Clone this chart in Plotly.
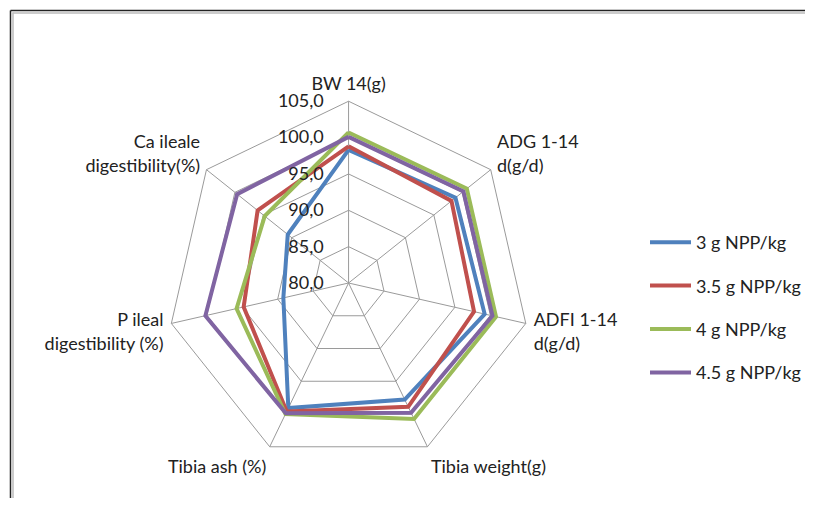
import plotly.graph_objects as go

categories = [
    "BW 14(g)",
    "ADG 1-14<br>d(g/d)",
    "ADFI 1-14<br>d(g/d)",
    "Tibia weight(g)",
    "Tibia ash (%)",
    "P ileal<br>digestibility (%)",
    "Ca ileale<br>digestibility(%)",
]

series_names = ["3 g NPP/kg", "3.5 g NPP/kg", "4 g NPP/kg", "4.5 g NPP/kg"]
npp_3_0 = [98.3, 98.8, 99.2, 97.8, 99.1, 89.2, 90.7]
npp_3_5 = [98.8, 98.1, 97.7, 98.9, 99.6, 94.8, 96.0]
npp_4_0 = [100.7, 100.8, 100.8, 100.75, 100.0, 95.8, 94.75]
npp_4_5 = [100.1, 100.2, 100.3, 99.8, 99.9, 100.2, 99.6]
series_values = [npp_3_0, npp_3_5, npp_4_0, npp_4_5]
colors = ["#4F81BD", "#C0504D", "#9BBB59", "#8064A2"]

radial_ticks = [80, 85, 90, 95, 100, 105]

OFF = 8  # page body margin
W, H = 814 - 2 * OFF, 506 - 2 * OFF
FONT = "Lato, 'Open Sans', sans-serif"


def px(x):
    return (x - OFF) / W


def py(y):
    return 1 - (y - OFF) / H


fig = go.Figure()
for name, vals, col in zip(series_names, series_values, colors):
    fig.add_trace(go.Scatterpolar(
        r=vals + vals[:1],
        theta=categories + categories[:1],
        mode="lines",
        name=name,
        legendgroup=name,
        line=dict(color=col, width=4),
    ))

cx, cy, R = 349, 283, 182
grid = "#9a9a9a"

fig.update_layout(
    width=W, height=H,
    margin=dict(l=0, r=0, t=0, b=0),
    paper_bgcolor="white",
    separators=", ",
    font=dict(family=FONT, size=18, color="#222"),
    polar=dict(
        domain=dict(x=[px(cx - R), px(cx + R)], y=[py(cy + R), py(cy - R)]),
        bgcolor="white",
        gridshape="linear",
        angularaxis=dict(
            rotation=90, direction="clockwise",
            categoryorder="array", categoryarray=categories,
            showline=True, linecolor=grid, linewidth=1,
            gridcolor=grid, gridwidth=1,
            ticks="outside", ticklen=4, tickcolor="rgba(0,0,0,0)",
            tickfont=dict(family=FONT, size=18, color="#222"),
        ),
        radialaxis=dict(
            range=[radial_ticks[0], radial_ticks[-1]],
            tickvals=radial_ticks, tickformat=".1f",
            angle=90, tickangle=90, side="counterclockwise",
            showline=False, gridcolor=grid, gridwidth=1,
            ticks="outside", ticklen=18, tickcolor="rgba(0,0,0,0)",
            tickfont=dict(family=FONT, size=18, color="#222"),
        ),
    ),
    legend=dict(
        x=px(646), y=py(224), xanchor="left", yanchor="top",
        font=dict(family=FONT, size=18, color="#222"),
        tracegroupgap=17, itemwidth=41, bgcolor="rgba(0,0,0,0)",
    ),
    shapes=[
        dict(type="line", xref="paper", yref="paper", x0=px(10.5), x1=1, y0=py(10.5), y1=py(10.5), line=dict(color="#222", width=1.5)),
        dict(type="line", xref="paper", yref="paper", x0=px(12.5), x1=1, y0=py(13), y1=py(13), line=dict(color="#bbb", width=1.5)),
        dict(type="line", xref="paper", yref="paper", x0=px(10.5), x1=px(10.5), y0=0, y1=py(10.5), line=dict(color="#222", width=1.5)),
        dict(type="line", xref="paper", yref="paper", x0=px(13), x1=px(13), y0=0, y1=py(12.5), line=dict(color="#bbb", width=1.5)),
    ],
)

fig.write_html("out.html", config={"displayModeBar": False})
